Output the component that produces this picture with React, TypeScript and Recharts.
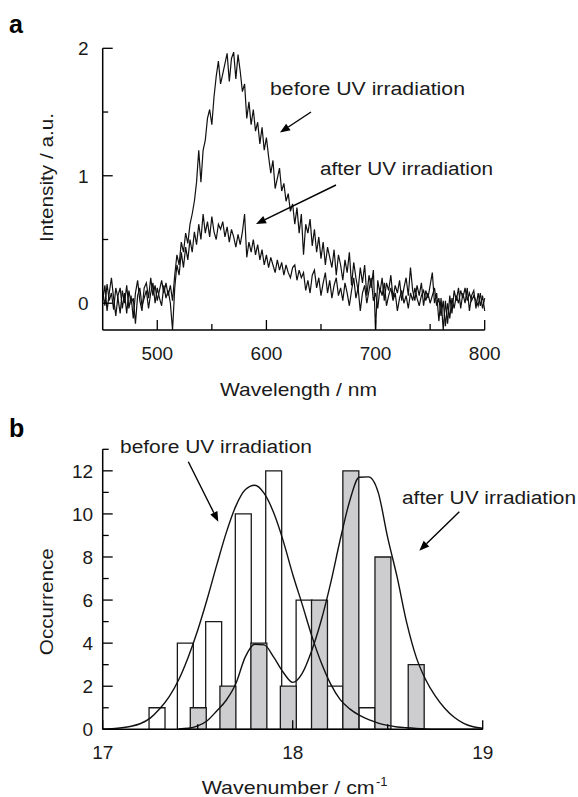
import React from 'react';
import { LineChart, Line, XAxis, YAxis, ComposedChart, ReferenceArea } from 'recharts';

// panel a: emission spectra
const wavelengths = [
  450, 452, 454, 456, 458, 460, 462, 464, 466, 468,
  470, 472, 474, 476, 478, 480, 482, 484, 486, 488,
  490, 492, 494, 496, 498, 500, 502, 504, 506, 508,
  510, 512, 514, 516, 518, 520, 522, 524, 526, 528,
  530, 532, 534, 536, 538, 540, 542, 544, 546, 548,
  550, 552, 554, 556, 558, 560, 562, 564, 566, 568,
  570, 572, 574, 576, 578, 580, 582, 584, 586, 588,
  590, 592, 594, 596, 598, 600, 602, 604, 606, 608,
  610, 612, 614, 616, 618, 620, 622, 624, 626, 628,
  630, 632, 634, 636, 638, 640, 642, 644, 646, 648,
  650, 652, 654, 656, 658, 660, 662, 664, 666, 668,
  670, 672, 674, 676, 678, 680, 682, 684, 686, 688,
  690, 692, 694, 696, 698, 700, 702, 704, 706, 708,
  710, 712, 714, 716, 718, 720, 722, 724, 726, 728,
  730, 732, 734, 736, 738, 740, 742, 744, 746, 748,
  750, 752, 754, 756, 758, 760, 762, 764, 766, 768,
  770, 772, 774, 776, 778, 780, 782, 784, 786, 788,
  790, 792, 794, 796, 798, 800,
];

const beforeSpectrum = [
  0.10, -0.02, 0.15, 0.02, 0.08, -0.05, 0.12, 0.04, -0.08, 0.10,
  0.00, 0.14, -0.04, 0.06, -0.12, 0.08, 0.18, 0.02, -0.06, 0.12,
  0.16, 0.04, 0.20, 0.06, 0.14, 0.02, 0.10, 0.18, 0.08, 0.16,
  0.06, 0.14, 0.02, 0.22, 0.38, 0.30, 0.48, 0.40, 0.55, 0.47,
  0.62, 0.70, 0.80, 0.95, 1.20, 0.95, 1.20, 1.28, 1.45, 1.52,
  1.40, 1.62, 1.78, 1.90, 1.72, 1.80, 1.88, 1.96, 1.74, 1.92,
  1.97, 1.76, 1.95, 1.82, 1.66, 1.72, 1.45, 1.58, 1.40, 1.52,
  1.35, 1.42, 1.25, 1.38, 1.20, 1.30, 1.15, 1.02, 1.12, 0.90,
  0.98, 1.06, 0.88, 0.94, 0.80, 0.86, 0.72, 0.78, 0.62, 0.75,
  0.55, 0.70, 0.38, 0.62, 0.55, 0.66, 0.45, 0.58, 0.40, 0.52,
  0.35, 0.48, 0.30, 0.44, 0.36, 0.28, 0.42, 0.22, 0.38, 0.30,
  0.18, 0.34, 0.24, 0.40, 0.14, 0.32, 0.20, 0.10, 0.28, 0.16,
  0.30, 0.06, 0.22, 0.12, 0.26, -0.21, 0.18, 0.08, 0.20, 0.02,
  0.16, 0.10, 0.22, 0.04, 0.14, 0.08, 0.18, 0.02, 0.12, 0.20,
  0.06, 0.28, 0.10, 0.02, 0.14, 0.06, 0.16, -0.02, 0.10, 0.04,
  0.14, 0.24, 0.00, 0.08, -0.14, 0.04, -0.21, 0.02, -0.16, 0.06,
  -0.08, 0.10, 0.02, 0.12, -0.04, 0.08, 0.00, 0.12, -0.06, 0.06,
  0.10, -0.04, 0.08, -0.02, 0.06, -0.06,
];

const afterSpectrum = [
  0.02, 0.14, -0.06, 0.08, 0.20, 0.04, -0.10, 0.06, 0.12, -0.04,
  0.08, -0.08, 0.10, 0.00, 0.04, -0.16, 0.06, 0.12, -0.02, 0.04,
  0.10, -0.04, 0.08, 0.16, 0.00, 0.12, 0.04, -0.02, 0.14, 0.04,
  0.10, 0.00, -0.21, 0.12, 0.30, 0.22, 0.40, 0.28, 0.44, 0.34,
  0.50, 0.40, 0.56, 0.46, 0.62, 0.50, 0.70, 0.55, 0.64, 0.52,
  0.68, 0.56, 0.50, 0.62, 0.58, 0.64, 0.52, 0.60, 0.48, 0.58,
  0.52, 0.44, 0.54, 0.46, 0.56, 0.70, 0.36, 0.48, 0.40, 0.50,
  0.38, 0.46, 0.34, 0.42, 0.30, 0.38, 0.28, 0.36, 0.30, 0.24,
  0.34, 0.26, 0.32, 0.22, 0.30, 0.24, 0.20, 0.28, 0.30, 0.18,
  0.26, 0.20, 0.24, 0.10, 0.18, 0.08, 0.22, 0.26, 0.12, 0.20,
  0.06, 0.16, 0.24, 0.08, 0.18, 0.04, 0.14, 0.20, 0.06, 0.12,
  0.02, 0.16, 0.08, -0.02, 0.10, 0.20, 0.04, 0.12, -0.06, 0.08,
  0.14, 0.00, 0.10, 0.20, 0.02, 0.08, -0.04, 0.12, 0.06, 0.16,
  -0.02, 0.06, 0.12, 0.02, 0.08, -0.06, 0.04, 0.10, 0.00, 0.06,
  -0.04, 0.08, 0.02, 0.12, 0.04, -0.02, 0.06, 0.10, 0.02, 0.08,
  0.00, 0.06, 0.12, -0.02, 0.04, -0.10, 0.02, -0.18, 0.00, -0.12,
  0.04, -0.04, 0.06, 0.00, 0.10, 0.04, 0.12, 0.02, 0.08, 0.02,
  0.06, 0.02, -0.02, 0.08, -0.04, 0.04,
];

const spectrumXTicks = [500, 550, 600, 650, 700, 750, 800];
const spectrumXLabels = [500, 600, 700, 800];
const spectrumYTicks = [0, 0.5, 1, 1.5, 2];
const spectrumYLabels = [0, 1, 2];

// panel b: histogram of peak wavenumbers (x1000 cm-1)
const beforeBinCenters = [17.286, 17.435, 17.584, 17.74, 17.9, 18.06, 18.222, 18.391];
const beforeCounts = [1, 4, 5, 10, 12, 6, 2, 1];
const afterBinCenters = [17.503, 17.659, 17.822, 17.977, 18.141, 18.306, 18.475, 18.65];
const afterCounts = [1, 2, 4, 2, 6, 12, 8, 3];
const BIN_WIDTH = 0.084;

const fitX = [
  17.0, 17.05, 17.1, 17.15, 17.2, 17.25, 17.3, 17.35, 17.4, 17.45,
  17.5, 17.55, 17.6, 17.65, 17.7, 17.75, 17.8, 17.85, 17.9, 17.95,
  18.0, 18.05, 18.1, 18.15, 18.2, 18.25, 18.3, 18.35, 18.4, 18.45,
  18.5, 18.55, 18.6, 18.65, 18.7, 18.75, 18.8, 18.85, 18.9, 18.95,
  19.0,
];
const beforeFit = [
  0.01, 0.03, 0.07, 0.14, 0.27, 0.52, 0.95, 1.52, 2.3, 3.35,
  4.6, 6.05, 7.62, 9.12, 10.35, 11.12, 11.33, 10.95, 10.05, 8.75,
  7.2, 5.8, 4.35, 3.1, 2.1, 1.38, 0.95, 0.66, 0.45, 0.29,
  0.18, 0.11, 0.07, 0.04, 0.02, 0.01, 0.01, 0, 0, 0,
  0,
];
const afterFit = [
  null, null, null, null, null, null, null, null, 0.02, 0.05,
  0.16, 0.4, 0.85, 1.35, 2.1, 3.35, 3.95, 3.92, 3.35, 2.65,
  2.18, 2.6, 3.65, 5.05, 6.8, 8.8, 10.6, 11.7, 11.72, 11.0,
  8.9, 7.05, 4.95, 3.35, 2.3, 1.55, 0.98, 0.56, 0.28, 0.12,
  0.05,
];

const histXTicks = [17, 17.5, 18, 18.5, 19];
const histXLabels = [17, 18, 19];
const histYTicks = [0, 1, 2, 3, 4, 5, 6, 7, 8, 9, 10, 11, 12, 13];
const histYLabels = [0, 2, 4, 6, 8, 10, 12];

const FONT = '"Liberation Sans", Arial, Helvetica, sans-serif';
const INK = '#1a1a1a';

const spectrumData = wavelengths.map((wl, i) => ({ wl, before: beforeSpectrum[i], after: afterSpectrum[i] }));
const fitData = fitX.map((x, i) => ({ x, before: beforeFit[i], after: afterFit[i] }));

// ticks point inward; tickSize is 0 so the axis sits at x + margin / y - margin
function makeYTick(margin: number, labeled: number[], major: number, minor: number) {
  return (props: any) => {
    const { x, y, payload } = props;
    const ax = x + margin;
    const isMajor = labeled.includes(payload.value);
    return (
      <g>
        <line x1={ax} y1={y} x2={ax + (isMajor ? major : minor)} y2={y} stroke="#000" strokeWidth={1.3} />
        {isMajor && (
          <text x={x} y={y} dy="0.36em" textAnchor="end" fontSize={19} fontFamily={FONT} fill={INK}>
            {payload.value}
          </text>
        )}
      </g>
    );
  };
}

function makeXTick(margin: number, labeled: number[], major: number, minor: number) {
  return (props: any) => {
    const { x, y, payload } = props;
    const ay = y - margin;
    const isMajor = labeled.includes(payload.value);
    return (
      <g>
        <line x1={x} y1={ay} x2={x} y2={ay - (isMajor ? major : minor)} stroke="#000" strokeWidth={1.3} />
        {isMajor && (
          <text x={x} y={y} dy="0.36em" textAnchor="middle" fontSize={19} fontFamily={FONT} fill={INK}>
            {payload.value}
          </text>
        )}
      </g>
    );
  };
}

function Arrow({ from, to }: { from: [number, number]; to: [number, number] }) {
  const [x1, y1] = from;
  const [x2, y2] = to;
  const len = Math.hypot(x2 - x1, y2 - y1);
  const ux = (x2 - x1) / len;
  const uy = (y2 - y1) / len;
  const head = 10;
  const half = 4;
  const bx = x2 - ux * head;
  const by = y2 - uy * head;
  const pts = `${x2},${y2} ${bx - uy * half},${by + ux * half} ${bx + uy * half},${by - ux * half}`;
  return (
    <g>
      <line x1={x1} y1={y1} x2={bx} y2={by} stroke="#000" strokeWidth={1.4} />
      <polygon points={pts} fill="#000" />
    </g>
  );
}

const axisLine = { stroke: '#000', strokeWidth: 1.5 };

export default function App() {
  return (
    <div style={{ position: 'absolute', left: 0, top: 0, width: 578, height: 797, background: '#fff' }}>
      <div style={{ position: 'absolute', left: 0, top: 0 }}>
        <LineChart width={578} height={400} data={spectrumData} margin={{ top: 48.3, right: 93.3, bottom: 20, left: 42.7 }}>
          <XAxis
            dataKey="wl"
            type="number"
            domain={[450, 800]}
            ticks={spectrumXTicks}
            interval={0}
            height={50}
            tickSize={0}
            tickMargin={22.7}
            axisLine={axisLine}
            tickLine={false}
            tick={makeXTick(22.7, spectrumXLabels, 10, 6)}
          />
          <YAxis
            type="number"
            domain={[-0.21, 2]}
            ticks={spectrumYTicks}
            interval={0}
            width={60}
            tickSize={0}
            tickMargin={14}
            axisLine={axisLine}
            tickLine={false}
            tick={makeYTick(14, spectrumYLabels, 10, 5.5)}
          />
          <Line dataKey="after" type="linear" stroke="#111" strokeWidth={1.2} dot={false} isAnimationActive={false} />
          <Line dataKey="before" type="linear" stroke="#111" strokeWidth={1.2} dot={false} isAnimationActive={false} />
        </LineChart>
      </div>

      <div style={{ position: 'absolute', left: 0, top: 400 }}>
        <ComposedChart width={578} height={397} data={fitData} margin={{ top: 49.3, right: 95.3, bottom: 17.7, left: 42.7 }}>
          <XAxis
            dataKey="x"
            type="number"
            domain={[17, 19]}
            ticks={histXTicks}
            interval={0}
            height={50}
            tickSize={0}
            tickMargin={22.4}
            axisLine={axisLine}
            tickLine={false}
            tick={makeXTick(22.4, histXLabels, 9, 5)}
          />
          <YAxis
            type="number"
            domain={[0, 13]}
            ticks={histYTicks}
            interval={0}
            width={60}
            tickSize={0}
            tickMargin={9.5}
            axisLine={axisLine}
            tickLine={false}
            tick={makeYTick(9.5, histYLabels, 10, 6)}
          />
          {beforeBinCenters.map((c, i) => (
            <ReferenceArea
              key={'b' + i}
              x1={c - BIN_WIDTH / 2}
              x2={c + BIN_WIDTH / 2}
              y1={0}
              y2={beforeCounts[i]}
              fill="#ffffff"
              fillOpacity={1}
              stroke="#1a1a1a"
              strokeWidth={1.3}
            />
          ))}
          {afterBinCenters.map((c, i) => (
            <ReferenceArea
              key={'a' + i}
              x1={c - BIN_WIDTH / 2}
              x2={c + BIN_WIDTH / 2}
              y1={0}
              y2={afterCounts[i]}
              fill="#cdcdcf"
              fillOpacity={1}
              stroke="#1a1a1a"
              strokeWidth={1.3}
            />
          ))}
          <Line dataKey="before" type="monotone" stroke="#111" strokeWidth={1.4} dot={false} isAnimationActive={false} />
          <Line dataKey="after" type="monotone" stroke="#111" strokeWidth={1.4} dot={false} isAnimationActive={false} />
        </ComposedChart>
      </div>

      <svg width={578} height={797} style={{ position: 'absolute', left: 0, top: 0, pointerEvents: 'none' }} fontFamily={FONT}>
        <text x={9} y={33} fontSize={25} fontWeight="bold" fill="#000">a</text>
        <text x={9} y={437} fontSize={25} fontWeight="bold" fill="#000">b</text>

        <text x={53} y={177.5} transform="rotate(-90 53 177.5)" textAnchor="middle" fontSize={19} fill={INK} textLength={129} lengthAdjust="spacingAndGlyphs">Intensity / a.u.</text>
        <text x={220} y={396} fontSize={19} fill={INK} textLength={157} lengthAdjust="spacingAndGlyphs">Wavelength / nm</text>

        <text x={53} y={601.7} transform="rotate(-90 53 601.7)" textAnchor="middle" fontSize={19} fill={INK} textLength={107} lengthAdjust="spacingAndGlyphs">Occurrence</text>
        <text x={201.7} y={794} fontSize={19} fill={INK} textLength={173} lengthAdjust="spacingAndGlyphs">Wavenumber / cm</text>
        <text x={376} y={786} fontSize={13} fill={INK}>-1</text>

        <text x={270} y={94.5} fontSize={18} fill={INK} textLength={195} lengthAdjust="spacingAndGlyphs">before UV irradiation</text>
        <text x={320} y={175} fontSize={18} fill={INK} textLength={173} lengthAdjust="spacingAndGlyphs">after UV irradiation</text>
        <text x={120} y={453} fontSize={18} fill={INK} textLength={192} lengthAdjust="spacingAndGlyphs">before UV irradiation</text>
        <text x={402} y={504} fontSize={18} fill={INK} textLength={174} lengthAdjust="spacingAndGlyphs">after UV irradiation</text>

        <Arrow from={[311, 112]} to={[280, 132.5]} />
        <Arrow from={[336, 185]} to={[256, 224]} />
        <Arrow from={[188.3, 461.7]} to={[218.3, 521.7]} />
        <Arrow from={[459.3, 511.7]} to={[419.3, 550.7]} />
      </svg>
    </div>
  );
}
